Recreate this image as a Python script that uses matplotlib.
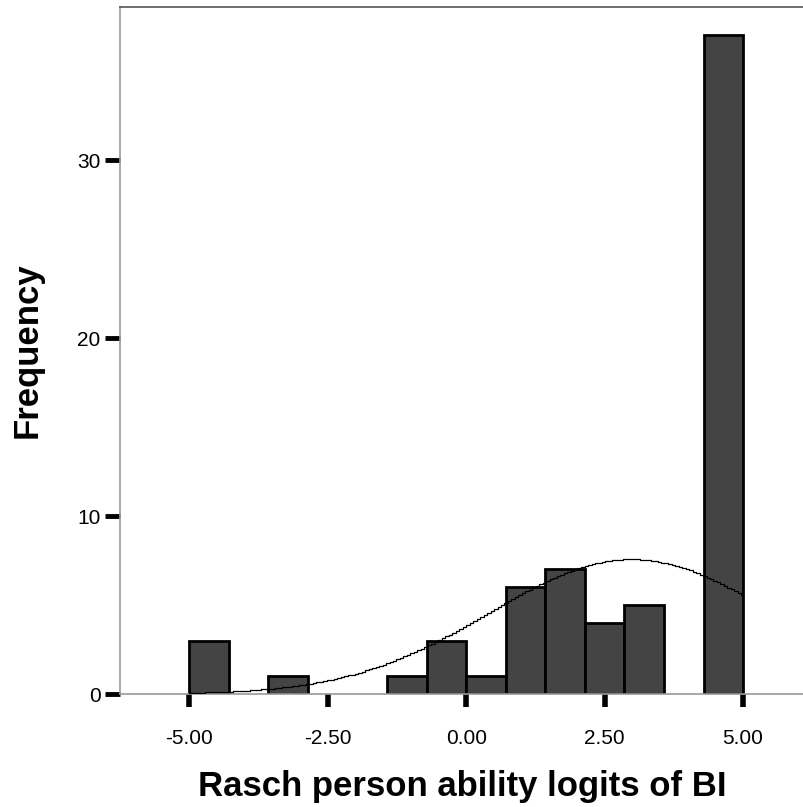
import numpy as np
import matplotlib
matplotlib.use("Agg")
import matplotlib.pyplot as plt

plt.rcParams['font.family'] = ['Liberation Sans', 'DejaVu Sans']

# histogram: 14 bins of equal width between -5 and 5
bin_lo = -5.0
bin_hi = 5.0
counts = [3, 0, 1, 0, 0, 1, 3, 1, 6, 7, 4, 5, 0, 37]

# fitted normal curve
curve_mean = 2.99
curve_sd = 2.56
n_total = sum(counts)

xticks = [-5.0, -2.5, 0.0, 2.5, 5.0]
xtick_labels = ["-5.00", "-2.50", "0.00", "2.50", "5.00"]
yticks = [0, 10, 20, 30]

edges = np.linspace(bin_lo, bin_hi, len(counts) + 1)
width = edges[1] - edges[0]

fig = plt.figure(figsize=(8.04, 8.07), dpi=100)
ax = fig.add_axes([120 / 804, 113 / 807, 684 / 804, 687 / 807])

for i, c in enumerate(counts):
    if c > 0:
        ax.bar(edges[i], c, width=width, align='edge', color='#444444',
               edgecolor='black', linewidth=2, zorder=2)

# normal curve drawn as a jagged step line like the original
xs = np.linspace(bin_lo, bin_hi, 160)
ys = n_total * width / (curve_sd * np.sqrt(2 * np.pi)) * np.exp(-0.5 * ((xs - curve_mean) / curve_sd) ** 2)
ax.plot(xs, ys, color='black', linewidth=0.9, drawstyle='steps-mid', zorder=3)

ax.set_xlim(-6.25, 6.1)
ax.set_ylim(0, 38.6)

ax.set_xticks(xticks)
ax.set_xticklabels(xtick_labels)
ax.set_yticks(yticks)
ax.tick_params(axis='x', direction='out', length=9, width=4, labelsize=15, pad=16)
ax.tick_params(axis='y', direction='out', length=11, width=3.5, labelsize=15, pad=3)

ax.spines['right'].set_visible(False)
ax.spines['left'].set_color('#999999')
ax.spines['bottom'].set_color('#999999')
ax.spines['top'].set_color('#555555')
for s in ax.spines.values():
    s.set_linewidth(1.2)

ax.set_xlabel("Rasch person ability logits of BI", fontsize=25, fontweight='bold', labelpad=16)
ax.set_ylabel("Frequency", fontsize=25, fontweight='bold', labelpad=24)

fig.savefig("out.png", dpi=100)
